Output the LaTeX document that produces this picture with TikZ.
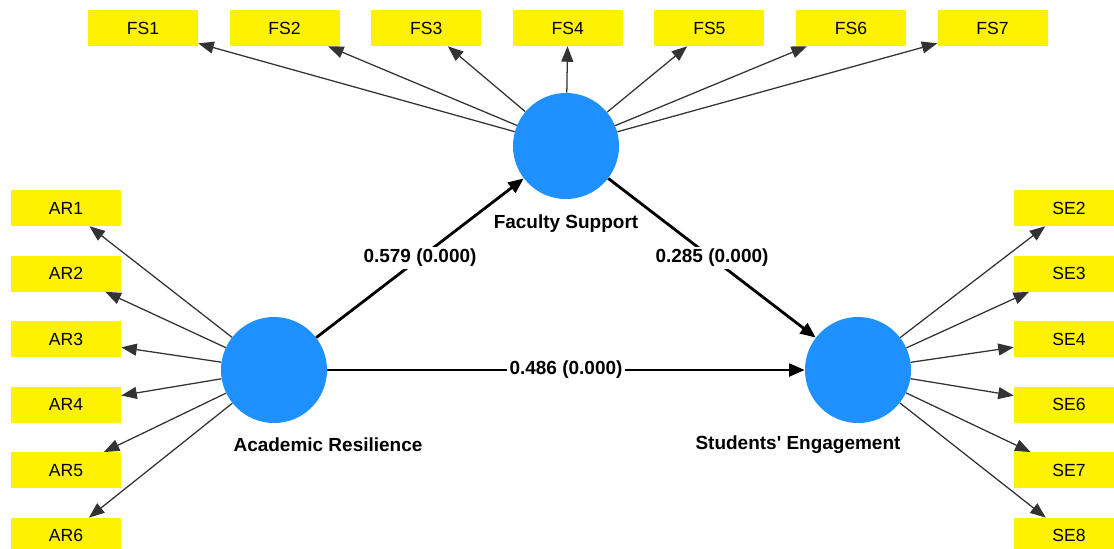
\documentclass[tikz,border=0pt]{standalone}
\usepackage{fontspec}
\setmainfont{Liberation Sans}
\usetikzlibrary{arrows.meta, positioning}
\definecolor{lvblue}{RGB}{30,144,255}

\begin{document}
\begin{tikzpicture}[x=0.025cm, y=-0.025cm,
        ind/.style={fill=yellow, minimum width=2.75cm, minimum height=0.9cm, inner sep=0pt, font=\fontsize{12.5}{14}\selectfont},
        lv/.style={circle, fill=lvblue, minimum size=2.65cm, inner sep=0pt},
        lvlabel/.style={font=\bfseries\fontsize{13.5}{16}\selectfont},
        ldarr/.style={-{Triangle[length=11pt, width=8.5pt]}, line width=0.9pt, draw=black!80},
        patharr/.style={-{Triangle[length=11pt, width=9pt]}, line width=2pt},
        coef/.style={fill=white, inner sep=1.5pt, font=\bfseries\fontsize{13.5}{16}\selectfont}
    ]
        \useasboundingbox (0,0) rectangle (1114,548);
        \node[lv] (ar) at (274,370) {};
        \node[lv] (fs) at (566,146) {};
        \node[lv] (se) at (858,370) {};
        \node[lvlabel] (arl) at (328,445) {Academic Resilience};
        \node[lvlabel] (fsl) at (566,224) {Faculty Support};
        \node[lvlabel] (sel) at (798,445) {Students\textquotesingle{} Engagement};

        \node[ind] (fs1) at (143,28) {FS1};
        \node[ind, right=0.775cm of fs1] (fs2) {FS2};
        \node[ind, right=0.775cm of fs2] (fs3) {FS3};
        \node[ind, right=0.775cm of fs3] (fs4) {FS4};
        \node[ind, right=0.775cm of fs4] (fs5) {FS5};
        \node[ind, right=0.775cm of fs5] (fs6) {FS6};
        \node[ind, right=0.775cm of fs6] (fs7) {FS7};

        \node[ind] (ar1) at (66,208) {AR1};
        \node[ind, below=0.725cm of ar1] (ar2) {AR2};
        \node[ind, below=0.725cm of ar2] (ar3) {AR3};
        \node[ind, below=0.725cm of ar3] (ar4) {AR4};
        \node[ind, below=0.725cm of ar4] (ar5) {AR5};
        \node[ind, below=0.725cm of ar5] (ar6) {AR6};

        \node[ind] (se2) at (1069,208) {SE2};
        \node[ind, below=0.725cm of se2] (se3) {SE3};
        \node[ind, below=0.725cm of se3] (se4) {SE4};
        \node[ind, below=0.725cm of se4] (se6) {SE6};
        \node[ind, below=0.725cm of se6] (se7) {SE7};
        \node[ind, below=0.725cm of se7] (se8) {SE8};

        \draw[ldarr] (fs) -- (fs1);
        \draw[ldarr] (fs) -- (fs2);
        \draw[ldarr] (fs) -- (fs3);
        \draw[ldarr] (fs) -- (fs4);
        \draw[ldarr] (fs) -- (fs5);
        \draw[ldarr] (fs) -- (fs6);
        \draw[ldarr] (fs) -- (fs7);

        \draw[ldarr] (ar) -- (ar1);
        \draw[ldarr] (ar) -- (ar2);
        \draw[ldarr] (ar) -- (ar3);
        \draw[ldarr] (ar) -- (ar4);
        \draw[ldarr] (ar) -- (ar5);
        \draw[ldarr] (ar) -- (ar6);

        \draw[ldarr] (se) -- (se2);
        \draw[ldarr] (se) -- (se3);
        \draw[ldarr] (se) -- (se4);
        \draw[ldarr] (se) -- (se6);
        \draw[ldarr] (se) -- (se7);
        \draw[ldarr] (se) -- (se8);

        \draw[patharr] (ar) -- node[coef] (c1) {0.579 (0.000)} (fs);
        \draw[patharr] (fs) -- node[coef] (c2) {0.285 (0.000)} (se);
        \draw[patharr] (ar) -- node[coef] (c3) {0.486 (0.000)} (se);
    \end{tikzpicture}
\end{document}
